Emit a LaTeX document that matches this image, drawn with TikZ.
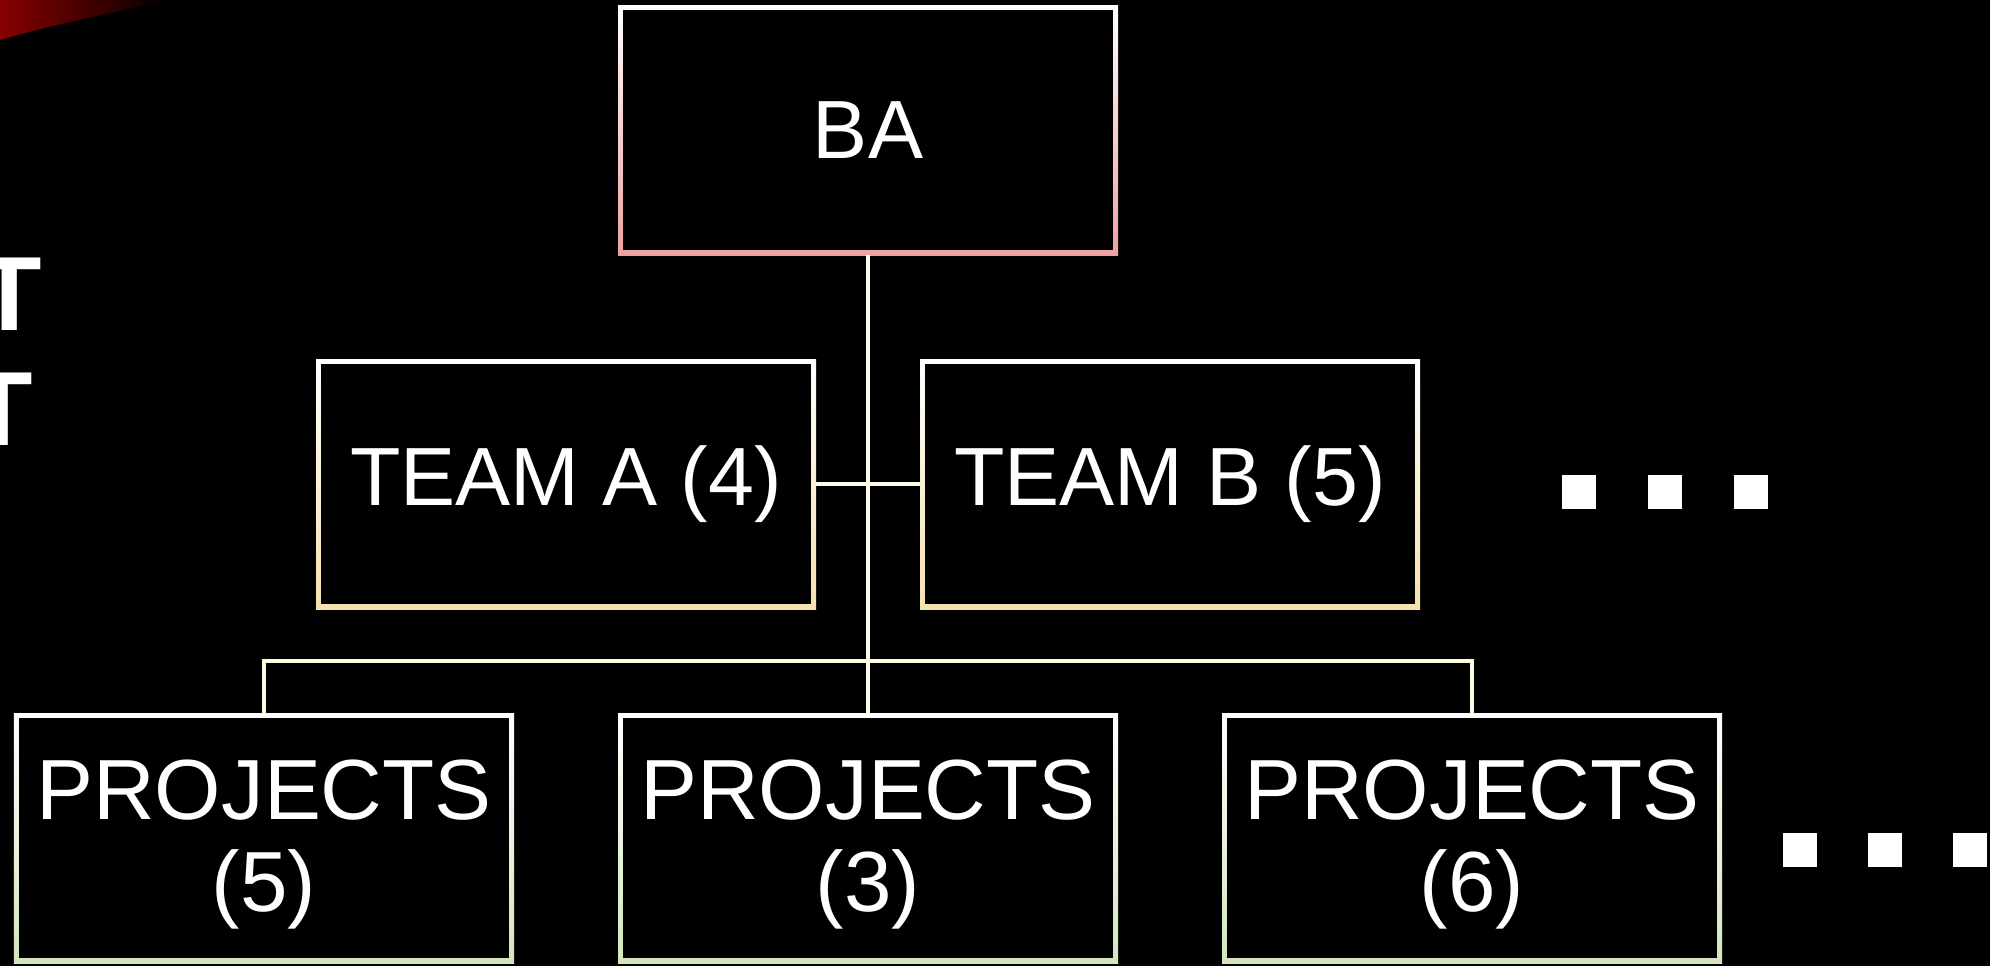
\documentclass[tikz,border=0pt]{standalone}
\usepackage{fontspec}
\setmainfont{Liberation Sans}
\usetikzlibrary{positioning}
\definecolor{baline}{HTML}{ECA2A2}
\definecolor{teamline}{HTML}{F6E2AE}
\definecolor{projline}{HTML}{D4E6BE}
\definecolor{connline}{HTML}{FFFBE3}
\definecolor{swoosh}{HTML}{880000}
\newcommand{\boxfont}{\fontsize{23.5}{25}\selectfont}
\newcommand{\projfont}{\fontsize{24.3}{26.2}\selectfont}

\begin{document}
\begin{tikzpicture}[node distance=2cm,on grid,
    orgbox/.style={fill=black, minimum width=5cm, minimum height=2.5cm,
      inner sep=0pt, outer sep=0pt, text=white, align=center, font=\boxfont,
      path picture={
        \shade[top color=white, bottom color=#1]
          (path picture bounding box.south west) rectangle (path picture bounding box.north east);
        \fill[black] ([shift={(0.05,0.05)}]path picture bounding box.south west)
          rectangle ([shift={(-0.05,-0.05)}]path picture bounding box.north east);
      }},
    projbox/.style={orgbox=projline, font=\projfont, text height=46.6pt, text depth=5pt},
    conn/.style={draw=connline, line width=1.4pt},
    dot/.style={fill=white, minimum size=0.34cm, inner sep=0pt},
    cutoff/.style={text=white, font=\fontsize{30}{36}\selectfont\bfseries,
      inner sep=0pt, anchor=north east}]
  \fill[black] (0,0) rectangle (19.9,-9.66);
  \useasboundingbox (0,0) rectangle (19.9,-9.66);
  % red corner
  \shade[left color=swoosh, right color=black]
    (0,0) -- (1.7,0) .. controls (1.0,-0.15) and (0.4,-0.28) .. (0,-0.40) -- cycle;
  % title letters cut off by the left edge
  \node[cutoff] (title_1) at (0.43,-2.57) {T};
  \node[cutoff] (title_2) at (0.34,-3.72) {T};

  \node[orgbox=baline] (ba) at (8.68,-1.30) {BA};
  \node[orgbox=teamline] (team_a) [below left=3.54cm and 3.02cm of ba] {TEAM A (4)};
  \node[orgbox=teamline] (team_b) [below right=3.54cm and 3.02cm of ba] {TEAM B (5)};
  \node[projbox] (proj_2) [below=7.08cm of ba] {PROJECTS\\(3)};
  \node[projbox] (proj_1) [left=6.04cm of proj_2] {PROJECTS\\(5)};
  \node[projbox] (proj_3) [right=6.04cm of proj_2] {PROJECTS\\(6)};

  \path[conn]
    (ba) edge (proj_2)
    (team_a) edge (team_b);
  \draw[conn] (proj_1.north) -- ++(0,0.52) -| (proj_3.north);

  \foreach \i in {0,1,2} {
    \node[dot] (dots_b\i) at ({15.79+0.86*\i},-4.92) {};
    \node[dot] (dots_p\i) at ({18.00+0.85*\i},-8.50) {};
  }
\end{tikzpicture}
\end{document}
